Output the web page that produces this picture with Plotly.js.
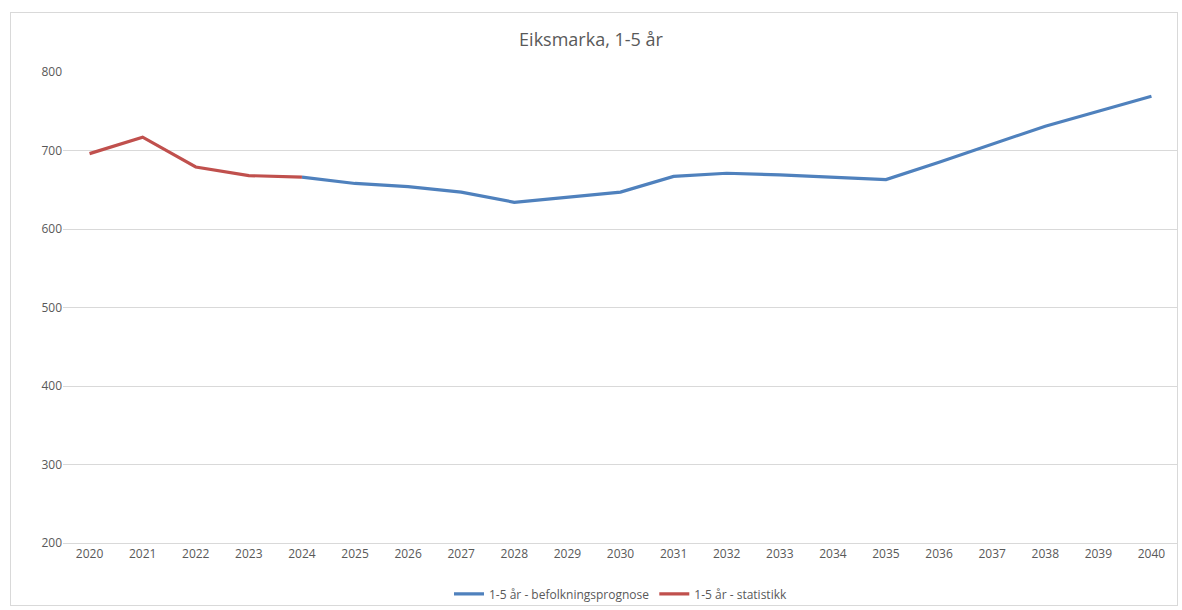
<!DOCTYPE html>
<html>
<head>
<meta charset="utf-8">
<script src="https://cdn.plot.ly/plotly-3.0.1.min.js"></script>
<style>
html,body{margin:0;padding:0;background:#fff;}
#wrap{position:relative;width:1182px;height:610px;}
#chart{width:1182px;height:610px;}
#frame{position:absolute;left:10px;top:12px;width:1168px;height:594px;border:1px solid #d9d9d9;pointer-events:none;box-sizing:border-box;}
</style>
</head>
<body>
<div id="wrap"><div id="chart"></div><div id="frame"></div></div>
<script>
const years = ['2020','2021','2022','2023','2024','2025','2026','2027','2028','2029','2030','2031','2032','2033','2034','2035','2036','2037','2038','2039','2040'];
const prognoseYears = ['2024','2025','2026','2027','2028','2029','2030','2031','2032','2033','2034','2035','2036','2037','2038','2039','2040'];
const prognoseValues = [666,658,654,647,634,640,647,667,671,669,666,663,685,708,731,750,769];
const statistikkYears = ['2020','2021','2022','2023','2024'];
const statistikkValues = [696,717,679,668,666];
const yTicks = [200,300,400,500,600,700,800];

const traces = [
  {x: prognoseYears, y: prognoseValues, type:'scatter', mode:'lines', name:'1-5 år - befolkningsprognose',
   line:{color:'#4F81BD', width:3.2}},
  {x: statistikkYears, y: statistikkValues, type:'scatter', mode:'lines', name:'1-5 år - statistikk',
   line:{color:'#C0504D', width:3.2}}
];

const layout = {
  width:1182, height:610,
  margin:{l:63, r:4, t:72, b:67, autoexpand:false},
  paper_bgcolor:'#fff', plot_bgcolor:'#fff',
  font:{family:'"Open Sans", "Liberation Sans", sans-serif', color:'#595959', size:12},
  title:{text:'Eiksmarka, 1-5 år', x:0.5, xanchor:'center', y:0.935, yanchor:'middle',
         font:{size:18, color:'#595959', family:'"Open Sans", "Liberation Sans", sans-serif'}},
  xaxis:{type:'category', categoryorder:'array', categoryarray: years,
         range:[-0.5, 20.5], showgrid:false, zeroline:false, automargin:false,
         showline:true, linecolor:'#d9d9d9', linewidth:1, ticks:'', tickfont:{size:12, color:'#595959'}, fixedrange:true},
  yaxis:{range:[200,800], tickvals:yTicks, showgrid:true, gridcolor:'#d9d9d9', gridwidth:1, automargin:false,
         zeroline:false, showline:false, ticks:'', ticklen:0, tickfont:{size:12, color:'#595959'}, fixedrange:true},
  showlegend:true,
  legend:{orientation:'h', x:0.5, xanchor:'center', y:-0.108, yanchor:'middle',
          font:{size:12, color:'#595959'}, traceorder:'normal', itemwidth:30},
  hovermode:false
};

Plotly.newPlot('chart', traces, layout, {displayModeBar:false, staticPlot:true});
</script>
</body>
</html>
